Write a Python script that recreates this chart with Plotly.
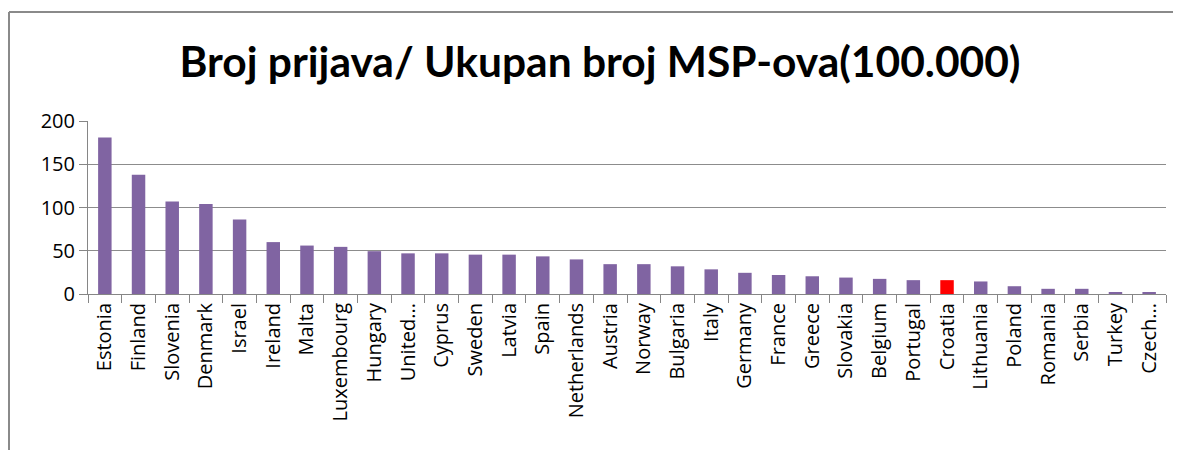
import plotly.graph_objects as go

countries = ["Estonia", "Finland", "Slovenia", "Denmark", "Israel", "Ireland", "Malta",
             "Luxembourg", "Hungary", "United...", "Cyprus", "Sweden", "Latvia", "Spain",
             "Netherlands", "Austria", "Norway", "Bulgaria", "Italy", "Germany", "France",
             "Greece", "Slovakia", "Belgium", "Portugal", "Croatia", "Lithuania", "Poland",
             "Romania", "Serbia", "Turkey", "Czech..."]
values = [181, 138, 107, 104, 86, 60, 56, 54.5, 49.5, 47, 47, 45.5, 45.5, 43.5, 40,
          34.5, 34.5, 32, 28.5, 24.5, 22, 20.5, 19, 17.5, 16, 16, 14.5, 9, 6, 6, 2, 2]
highlight = "Croatia"
y_ticks = [0, 50, 100, 150, 200]
title_text = "Broj prijava/ Ukupan broj MSP-ova(100.000)"

purple = "#8064A2"
red = "#FF0000"
colors = [red if c == highlight else purple for c in countries]

fig = go.Figure(go.Bar(x=countries, y=values, marker=dict(color=colors, line=dict(width=0))))

# page body has an 8px margin; positions below are in figure coordinates
OFF = 8
W, H = 1181, 450
L, R, T, B = 88 - OFF, 1166 - OFF, 121 - OFF, 294 - OFF
fig.update_layout(
    width=W, height=H,
    margin=dict(l=L, r=W - R, t=T, b=H - B, pad=0, autoexpand=False),
    paper_bgcolor="white", plot_bgcolor="white",
    bargap=0.6, showlegend=False,
    title=dict(text=title_text, x=(600 - OFF) / W, xanchor="center",
               y=1 - (62 - OFF) / H, yanchor="middle",
               xref="container", yref="container",
               font=dict(family="Lato", size=42.5, color="black", weight="bold")),
    font=dict(family="Open Sans", color="black"),
)
fig.update_xaxes(
    type="category", tickangle=-90, tickson="boundaries", ticks="outside", ticklen=8,
    tickcolor="#868686", showline=True, linecolor="#868686", linewidth=1,
    tickfont=dict(family="Open Sans", size=20, color="black"), showgrid=False,
)
fig.update_yaxes(
    range=[0, 200], tickvals=y_ticks, ticks="outside", ticklen=8, tickcolor="#868686",
    showline=True, linecolor="#868686", linewidth=1, showgrid=True, gridcolor="#8c8c8c",
    gridwidth=1, zeroline=False, tickfont=dict(family="Open Sans", size=20, color="black"),
)
pw = R - L
ph = B - T
fx0 = (9 - OFF - L) / pw
fx1 = (W - L) / pw
fy0 = -(H - B) / ph
fy1 = 1 + (T - (12 - OFF)) / ph
frame_line = dict(color="#8a8a8a", width=2)
fig.add_shape(type="line", xref="paper", yref="paper", x0=fx0, x1=fx1, y0=fy1, y1=fy1,
              line=frame_line, layer="below")
fig.add_shape(type="line", xref="paper", yref="paper", x0=fx0, x1=fx0, y0=fy0, y1=fy1,
              line=frame_line, layer="below")
fig.write_html("out.html")
